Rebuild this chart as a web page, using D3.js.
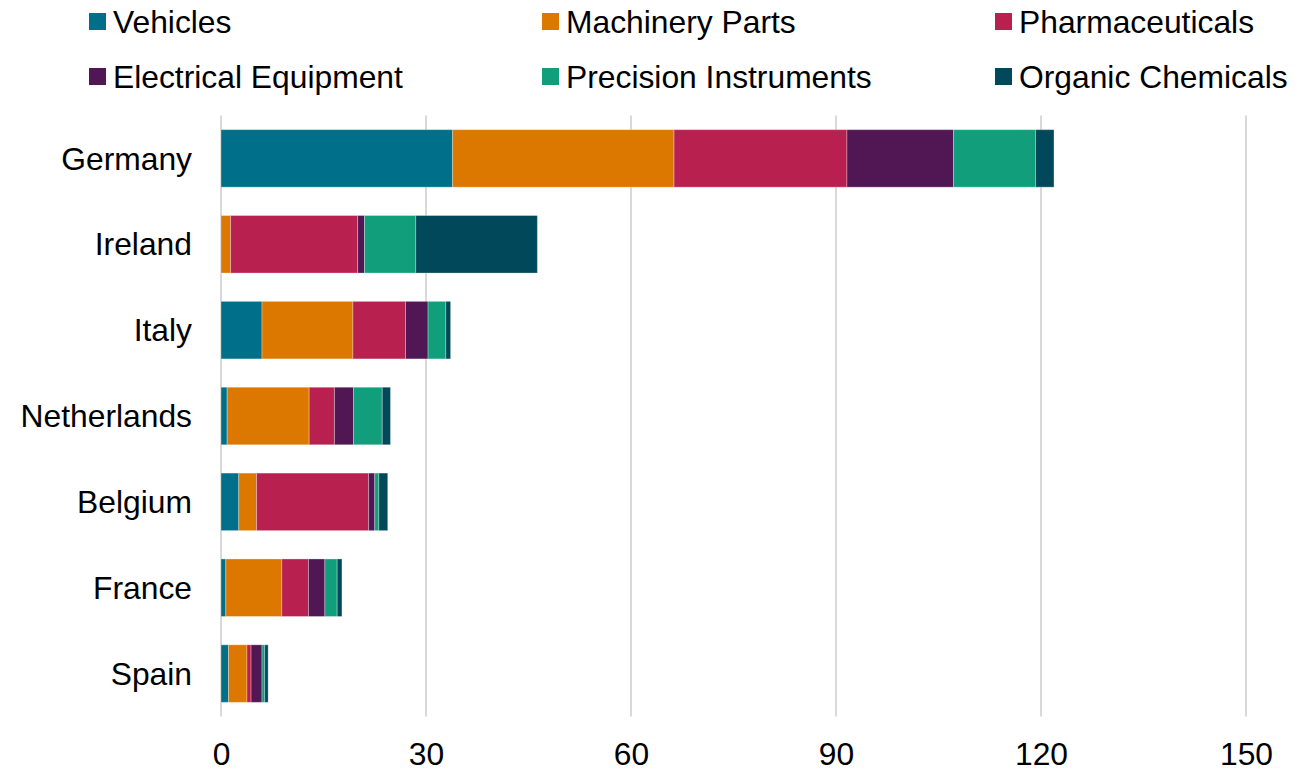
<!DOCTYPE html>
<html>
<head>
<meta charset="utf-8">
<script src="https://cdn.jsdelivr.net/npm/d3@7"></script>
<style>
  html, body { margin: 0; padding: 0; background: #fff; }
  svg text { font-family: "Liberation Sans", Arial, sans-serif; fill: #000; }
</style>
</head>
<body>
<svg id="chart" width="1315" height="770"></svg>
<script>
// Export values by country and product group
const countries = ["Germany", "Ireland", "Italy", "Netherlands", "Belgium", "France", "Spain"];
const seriesNames = ["Vehicles", "Machinery Parts", "Pharmaceuticals", "Electrical Equipment", "Precision Instruments", "Organic Chemicals"];
const vehicles      = [33.9, 0.0, 6.0, 0.9, 2.6, 0.7, 1.1];
const machinery     = [32.4, 1.4, 13.3, 12.0, 2.6, 8.2, 2.7];
const pharma        = [25.3, 18.6, 7.7, 3.7, 16.4, 3.9, 0.6];
const electrical    = [15.6, 1.0, 3.3, 2.8, 0.9, 2.4, 1.6];
const precision     = [12.0, 7.5, 2.6, 4.2, 0.6, 1.8, 0.4];
const organic       = [2.7, 17.8, 0.7, 1.2, 1.3, 0.7, 0.5];
const xTicks = [0, 30, 60, 90, 120, 150];
const colors = ["#00708a", "#dc7800", "#b8214f", "#511654", "#109e7b", "#01485b"];

const seriesValues = [vehicles, machinery, pharma, electrical, precision, organic];
const rows = countries.map((c, i) => {
  const r = { country: c };
  seriesNames.forEach((s, k) => { r[s] = seriesValues[k][i]; });
  return r;
});

const svg = d3.select("#chart");
const margin = { left: 221, right: 1246, top: 115.5, bottom: 716.5 };
const fontSize = "31.8px";

const x = d3.scaleLinear().domain([0, 150]).range([margin.left, margin.right]);
const y = d3.scaleBand().domain(countries).range([margin.top, margin.bottom])
  .paddingInner(0.33).paddingOuter(0.165);

// vertical gridlines
svg.append("g").selectAll("line").data(xTicks).join("line")
  .attr("x1", d => x(d)).attr("x2", d => x(d))
  .attr("y1", margin.top).attr("y2", margin.bottom)
  .attr("stroke", "#d9d9d9").attr("stroke-width", 2);

// stacked bars
const stack = d3.stack().keys(seriesNames)(rows);
const color = d3.scaleOrdinal().domain(seriesNames).range(colors);

svg.append("g").selectAll("g").data(stack).join("g")
  .attr("fill", d => color(d.key))
  .selectAll("rect").data(d => d).join("rect")
  .attr("x", d => x(d[0]))
  .attr("y", d => y(d.data.country))
  .attr("width", d => Math.max(0, x(d[1]) - x(d[0])))
  .attr("height", y.bandwidth())
  .attr("stroke", "rgba(255,255,255,0.3)")
  .attr("stroke-width", 1);

// x axis labels
const xAxis = d3.axisBottom(x).tickValues(xTicks).tickSize(0).tickPadding(0);
const gx = svg.append("g").attr("transform", `translate(0, ${margin.bottom})`).call(xAxis);
gx.select(".domain").remove();
gx.selectAll("text")
  .attr("y", 48).attr("dy", 0)
  .style("font-family", "Liberation Sans, Arial, sans-serif")
  .style("font-size", fontSize).attr("fill", "#000");

// category labels
const yAxis = d3.axisLeft(y).tickSize(0).tickPadding(0);
const gy = svg.append("g").attr("transform", `translate(192, 0)`).call(yAxis);
gy.select(".domain").remove();
gy.selectAll("text")
  .attr("dy", "0.35em")
  .style("font-family", "Liberation Sans, Arial, sans-serif")
  .style("font-size", fontSize).attr("fill", "#000");

// legend
const legendCols = [89, 542, 995];
const legendRows = [33, 88];
const legend = svg.append("g").selectAll("g").data(seriesNames).join("g")
  .attr("transform", (d, i) => `translate(${legendCols[i % 3]}, ${legendRows[Math.floor(i / 3)]})`);
legend.append("rect")
  .attr("x", 0).attr("y", -20).attr("width", 17).attr("height", 17)
  .attr("fill", d => color(d));
legend.append("text")
  .attr("x", 24).attr("y", 0)
  .style("font-size", fontSize)
  .text(d => d);
</script>
</body>
</html>
